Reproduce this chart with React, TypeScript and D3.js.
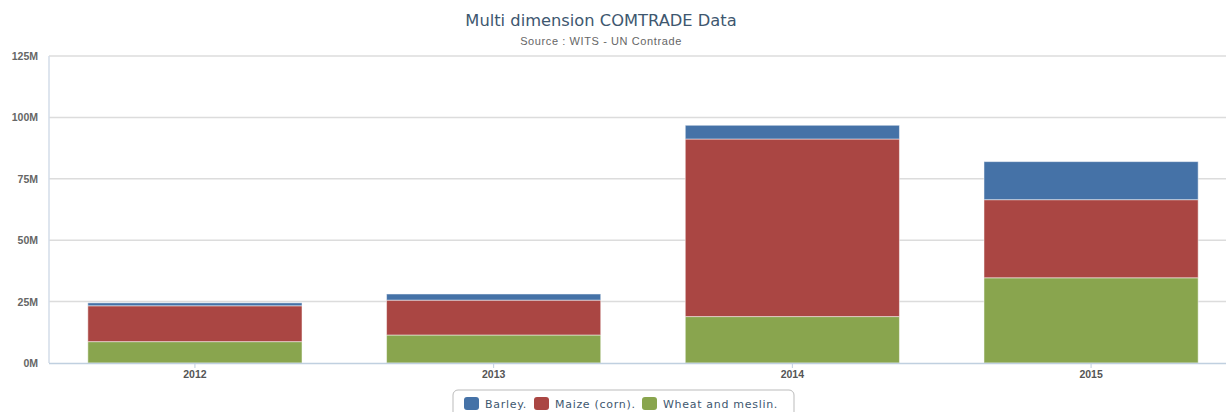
import React from 'react';
import * as d3 from 'd3';

const years = ['2012', '2013', '2014', '2015'];
const seriesNames = ['Wheat and meslin.', 'Maize (corn).', 'Barley.'];
const wheat = [8.7, 11.4, 18.9, 34.7];
const maize = [14.6, 14.2, 72.3, 31.8];
const barley = [1.2, 2.5, 5.6, 15.5];
const colors = ['#89A54E', '#AA4643', '#4572A7'];
const yTicks = [0, 25, 50, 75, 100, 125];
const legendOrder = [2, 1, 0];

const W = 1226;
const H = 412;
const margin = { top: 56, left: 49, bottom: 363 };
const plotRight = 1237;

export default function App() {
  const rows = years.map((y, i) => ({ year: y, w: wheat[i], m: maize[i], b: barley[i] }));
  const stack = d3.stack<any>().keys(['w', 'm', 'b']);
  const layers = stack(rows);

  const x = d3.scaleBand().domain(years).range([margin.left, plotRight]).paddingInner(0.283).paddingOuter(0.13);
  const y = d3.scaleLinear().domain([0, 125]).range([margin.bottom, margin.top]);

  const font = '"DejaVu Sans", Verdana, sans-serif';
  const labelFont = '"Liberation Sans", Arial, sans-serif';

  // legend layout
  const legendX = 453;
  const legendY = 390;
  const itemX = [464, 534, 642];

  return (
    <svg width={W} height={H} style={{ position: 'absolute', left: 0, top: 0 }}>
      <rect width={W} height={H} fill="#ffffff" />
      <text x={601} y={26} textAnchor="middle" fontFamily={font} fontSize={16.3} fill="#3E576F">
        Multi dimension COMTRADE Data
      </text>
      <text x={601} y={45} textAnchor="middle" fontFamily={labelFont} fontSize={11} fill="#666666" letterSpacing={0.6}>
        Source : WITS - UN Contrade
      </text>

      {yTicks.map((t) => (
        <g key={t}>
          {t > 0 && (
            <line x1={margin.left} x2={plotRight} y1={y(t)} y2={y(t)} stroke="#DCDCDC" strokeWidth={1.5} />
          )}
          <text x={38} y={y(t) + 4} textAnchor="end" fontFamily={labelFont} fontSize={10.5} fontWeight="bold" fill="#666666">
            {t}M
          </text>
        </g>
      ))}

      <line x1={margin.left} x2={margin.left} y1={margin.top} y2={margin.bottom} stroke="#D3DCE8" strokeWidth={1.5} />

      {layers.map((layer, li) => (
        <g key={li} fill={colors[li]}>
          {layer.map((d, i) => (
            <rect
              key={i}
              x={x(years[i])}
              y={y(d[1])}
              width={x.bandwidth()}
              height={y(d[0]) - y(d[1])}
              stroke="#ffffff"
              strokeOpacity={0.5}
              strokeWidth={1}
            />
          ))}
        </g>
      ))}

      <line x1={margin.left} x2={plotRight} y1={margin.bottom + 0.5} y2={margin.bottom + 0.5} stroke="#C0D0E0" strokeWidth={1.5} />
      {years.map((yr) => {
        const cx = (x(yr) as number) + x.bandwidth() / 2;
        return (
          <g key={yr}>
            <line x1={cx} x2={cx} y1={margin.bottom} y2={margin.bottom + 5} stroke="#C0D0E0" />
            <text x={cx} y={378} textAnchor="middle" fontFamily={labelFont} fontSize={10.5} fontWeight="bold" fill="#555555">
              {yr}
            </text>
          </g>
        );
      })}

      <rect x={legendX} y={legendY} width={341} height={30} rx={5} fill="#ffffff" stroke="#BBBBBB" />
      {legendOrder.map((si, k) => (
        <g key={si} transform={`translate(${itemX[k]},${397})`}>
          <rect width={15} height={13} rx={3} fill={colors[si]} />
          <text x={21} y={11} fontFamily={font} fontSize={11} fill="#3E576F" letterSpacing={0.7}>
            {seriesNames[si]}
          </text>
        </g>
      ))}
    </svg>
  );
}
